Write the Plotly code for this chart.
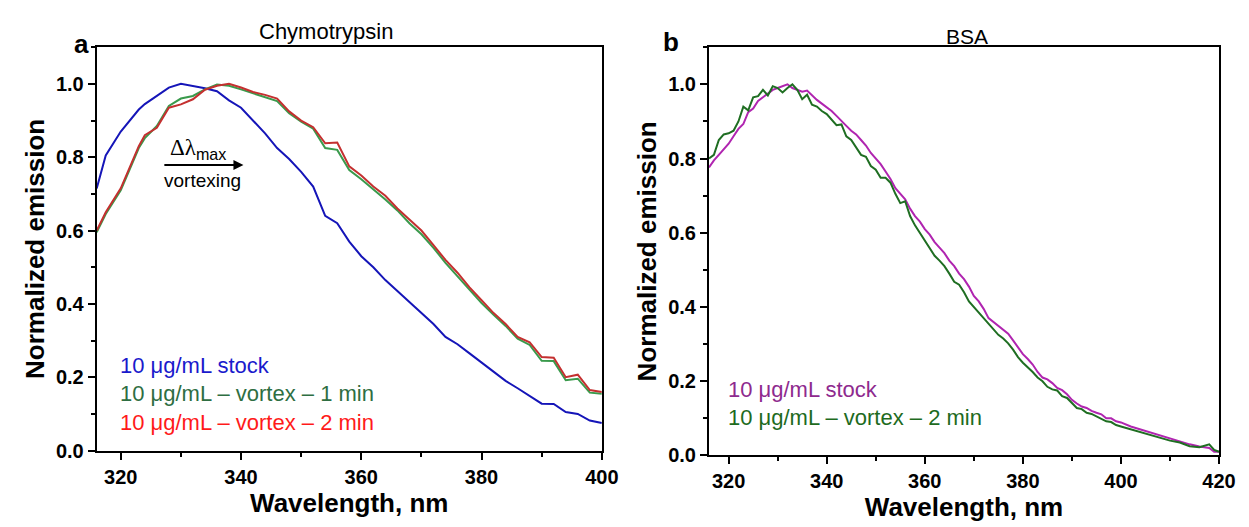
import plotly.graph_objects as go

# panel a: chymotrypsin
wl_a = [316, 317.5, 320, 323, 324, 326, 328, 330, 332, 334, 336, 338, 340, 342, 344, 346, 348, 350,
        352, 354, 356, 358, 360, 362, 364, 366, 368, 370, 372, 374, 376, 378, 380, 382, 384, 386,
        388, 390, 392, 394, 396, 398, 400]
chy_stock = [0.715, 0.805, 0.87, 0.93, 0.945, 0.967, 0.99, 1.0, 0.995, 0.988, 0.98, 0.955, 0.935, 0.9,
             0.865, 0.825, 0.795, 0.76, 0.72, 0.64, 0.62, 0.57, 0.53, 0.5, 0.465, 0.435, 0.405, 0.375,
             0.345, 0.31, 0.29, 0.265, 0.24, 0.215, 0.19, 0.17, 0.15, 0.128, 0.127, 0.105, 0.1, 0.082, 0.075]
chy_1min = [0.595, 0.645, 0.71, 0.825, 0.852, 0.885, 0.94, 0.96, 0.967, 0.985, 0.998, 0.995, 0.985, 0.975,
            0.963, 0.953, 0.92, 0.897, 0.878, 0.825, 0.82, 0.765, 0.74, 0.713, 0.685, 0.655, 0.62, 0.59,
            0.553, 0.512, 0.475, 0.44, 0.402, 0.37, 0.34, 0.305, 0.288, 0.245, 0.244, 0.192, 0.196, 0.158, 0.155]
chy_2min = [0.6, 0.65, 0.715, 0.83, 0.86, 0.88, 0.935, 0.944, 0.958, 0.984, 0.995, 1.0, 0.99, 0.978,
            0.97, 0.96, 0.925, 0.9, 0.882, 0.838, 0.84, 0.775, 0.75, 0.72, 0.695, 0.66, 0.63, 0.6,
            0.56, 0.52, 0.485, 0.445, 0.41, 0.375, 0.345, 0.31, 0.295, 0.255, 0.253, 0.2, 0.207, 0.165, 0.16]

# panel b: BSA
wl_b = list(range(316, 401)) + [402, 404, 406, 408, 410, 412, 414, 416, 417, 418, 419, 420]
bsa_stock = [0.776, 0.795, 0.81, 0.825, 0.84, 0.86, 0.88, 0.893, 0.925, 0.935, 0.955, 0.965, 0.975, 0.985,
             0.99, 0.995, 1.0, 0.99, 0.985, 0.98, 0.983, 0.97, 0.958, 0.948, 0.938, 0.928, 0.915, 0.9,
             0.888, 0.875, 0.865, 0.85, 0.835, 0.815, 0.8, 0.785, 0.765, 0.745, 0.72, 0.705, 0.69, 0.665,
             0.645, 0.63, 0.61, 0.595, 0.575, 0.56, 0.545, 0.525, 0.51, 0.49, 0.475, 0.455, 0.43, 0.415,
             0.395, 0.37, 0.36, 0.35, 0.34, 0.328, 0.31, 0.29, 0.273, 0.26, 0.245, 0.225, 0.21, 0.205,
             0.195, 0.182, 0.176, 0.165, 0.15, 0.14, 0.132, 0.128, 0.12, 0.115, 0.111, 0.1, 0.1, 0.092,
             0.089, 0.078, 0.07, 0.06, 0.052, 0.045, 0.037, 0.03, 0.024, 0.022, 0.02, 0.01, 0.01]
bsa_2min = [0.8, 0.81, 0.85, 0.865, 0.868, 0.875, 0.9, 0.94, 0.93, 0.965, 0.968, 0.985, 0.97, 0.995,
            0.99, 0.978, 0.99, 1.0, 0.985, 0.96, 0.972, 0.945, 0.94, 0.928, 0.92, 0.905, 0.89, 0.892,
            0.86, 0.85, 0.83, 0.81, 0.805, 0.78, 0.77, 0.748, 0.748, 0.735, 0.705, 0.68, 0.685, 0.645,
            0.62, 0.6, 0.58, 0.56, 0.538, 0.525, 0.51, 0.49, 0.468, 0.46, 0.44, 0.415, 0.4, 0.385,
            0.37, 0.355, 0.34, 0.325, 0.315, 0.302, 0.285, 0.265, 0.25, 0.238, 0.225, 0.21, 0.2, 0.185,
            0.178, 0.175, 0.16, 0.155, 0.14, 0.128, 0.125, 0.115, 0.112, 0.105, 0.1, 0.092, 0.09, 0.082,
            0.078, 0.07, 0.063, 0.055, 0.046, 0.04, 0.035, 0.025, 0.022, 0.025, 0.03, 0.015, 0.01]

x_ticks_a = [320, 340, 360, 380, 400]
x_ticks_b = [320, 340, 360, 380, 400, 420]
y_ticks = [0, 0.2, 0.4, 0.6, 0.8, 1.0]

FONT = "Liberation Sans"

fig = go.Figure()
fig.add_trace(go.Scatter(x=wl_a, y=chy_stock, mode="lines", line=dict(color="#1515b8", width=2),
                         xaxis="x", yaxis="y"))
fig.add_trace(go.Scatter(x=wl_a, y=chy_1min, mode="lines", line=dict(color="#3a9a4c", width=2),
                         xaxis="x", yaxis="y"))
fig.add_trace(go.Scatter(x=wl_a, y=chy_2min, mode="lines", line=dict(color="#c43030", width=2),
                         xaxis="x", yaxis="y"))
fig.add_trace(go.Scatter(x=wl_b, y=bsa_stock, mode="lines", line=dict(color="#b025b0", width=2),
                         xaxis="x2", yaxis="y2"))
fig.add_trace(go.Scatter(x=wl_b, y=bsa_2min, mode="lines", line=dict(color="#1f6e22", width=2),
                         xaxis="x2", yaxis="y2"))

tickfont = dict(family=FONT, size=20, color="black")
titlefont = dict(family=FONT, size=26, color="black", weight="bold")


def xax(domain, anchor, rng, ticks):
    return dict(domain=domain, anchor=anchor, range=rng, tickvals=ticks,
                ticktext=[f"<b>{t}</b>" for t in ticks], showgrid=False,
                zeroline=False, showline=True, linecolor="black", linewidth=2, mirror=True,
                ticks="outside", ticklen=7, tickwidth=2, tickcolor="black", tickfont=tickfont,
                minor=dict(dtick=10, tick0=310, ticks="outside", ticklen=4, tickwidth=2, tickcolor="black"),
                title=dict(text="Wavelength, nm", font=titlefont, standoff=6))


def yax(domain, anchor):
    return dict(domain=domain, anchor=anchor, range=[0, 1.1], tickvals=y_ticks,
                ticktext=[f"<b>{t:.1f}</b>" for t in y_ticks], showgrid=False, zeroline=False,
                showline=True, linecolor="black", linewidth=2, mirror=True, ticks="outside",
                ticklen=7, tickwidth=2, tickcolor="black", tickfont=tickfont,
                minor=dict(dtick=0.1, ticks="outside", ticklen=4, tickwidth=2, tickcolor="black"),
                title=dict(text="Normalized emission", font=titlefont, standoff=4))


fig.update_layout(
    width=1249, height=527, showlegend=False,
    paper_bgcolor="white", plot_bgcolor="white",
    margin=dict(l=0, r=0, t=0, b=0),
    xaxis=xax([0.072, 0.482], "y", [316, 400], x_ticks_a),
    yaxis=yax([0.1423, 0.924], "x"),
    xaxis2=xax([0.569, 0.983], "y2", [316, 420], x_ticks_b),
    yaxis2=yax([0.1328, 0.924], "x2"),
)

ann = [
    dict(text="Chymotrypsin", x=0.2578, y=0.9545, xref="paper", yref="paper", showarrow=False,
         xanchor="center", yanchor="middle", font=dict(family=FONT, size=22, color="black")),
    dict(text="BSA", x=0.7782, y=0.945, xref="paper", yref="paper", showarrow=False,
         xanchor="center", yanchor="middle", font=dict(family=FONT, size=21, color="black")),
    dict(text="<b>a</b>", x=0.06, y=0.9298, xref="paper", yref="paper", showarrow=False,
         xanchor="center", yanchor="middle", font=dict(family=FONT, size=26, color="black")),
    dict(text="<b>b</b>", x=0.538, y=0.9336, xref="paper", yref="paper", showarrow=False,
         xanchor="center", yanchor="middle", font=dict(family=FONT, size=26, color="black")),
    # vortexing arrow
    dict(x=340.4, y=0.779, ax=327.0, ay=0.779, xref="x", yref="y", axref="x", ayref="y",
         text="", showarrow=True, arrowhead=2, arrowsize=1, arrowwidth=2, arrowcolor="black"),
    dict(text="Δλ<span style=\"font-family:Liberation Sans\"><sub>max</sub></span>", x=327.8, y=0.822,
         xref="x", yref="y", xanchor="left", yanchor="middle", showarrow=False,
         font=dict(family="Liberation Serif", size=23, color="black")),
    dict(text="vortexing", x=326.9, y=0.737, xref="x", yref="y", xanchor="left", yanchor="middle",
         showarrow=False, font=dict(family=FONT, size=19, color="black")),
    # legend labels
    dict(text="10 μg/mL stock", x=319.6, y=0.232, xref="x", yref="y", xanchor="left", yanchor="middle",
         showarrow=False, font=dict(family=FONT, size=22, color="#1a1acc")),
    dict(text="10 μg/mL – vortex – 1 min", x=319.6, y=0.157, xref="x", yref="y", xanchor="left",
         yanchor="middle", showarrow=False, font=dict(family=FONT, size=22, color="#2e6e42")),
    dict(text="10 μg/mL – vortex – 2 min", x=319.6, y=0.077, xref="x", yref="y", xanchor="left",
         yanchor="middle", showarrow=False, font=dict(family=FONT, size=22, color="#ff1a1a")),
    dict(text="10 μg/mL stock", x=319.4, y=0.177, xref="x2", yref="y2", xanchor="left", yanchor="middle",
         showarrow=False, font=dict(family=FONT, size=22, color="#8e2a8e")),
    dict(text="10 μg/mL – vortex – 2 min", x=319.4, y=0.103, xref="x2", yref="y2", xanchor="left",
         yanchor="middle", showarrow=False, font=dict(family=FONT, size=22, color="#1e6b1e")),
]
fig.update_layout(annotations=ann)

fig.write_html("out.html")
